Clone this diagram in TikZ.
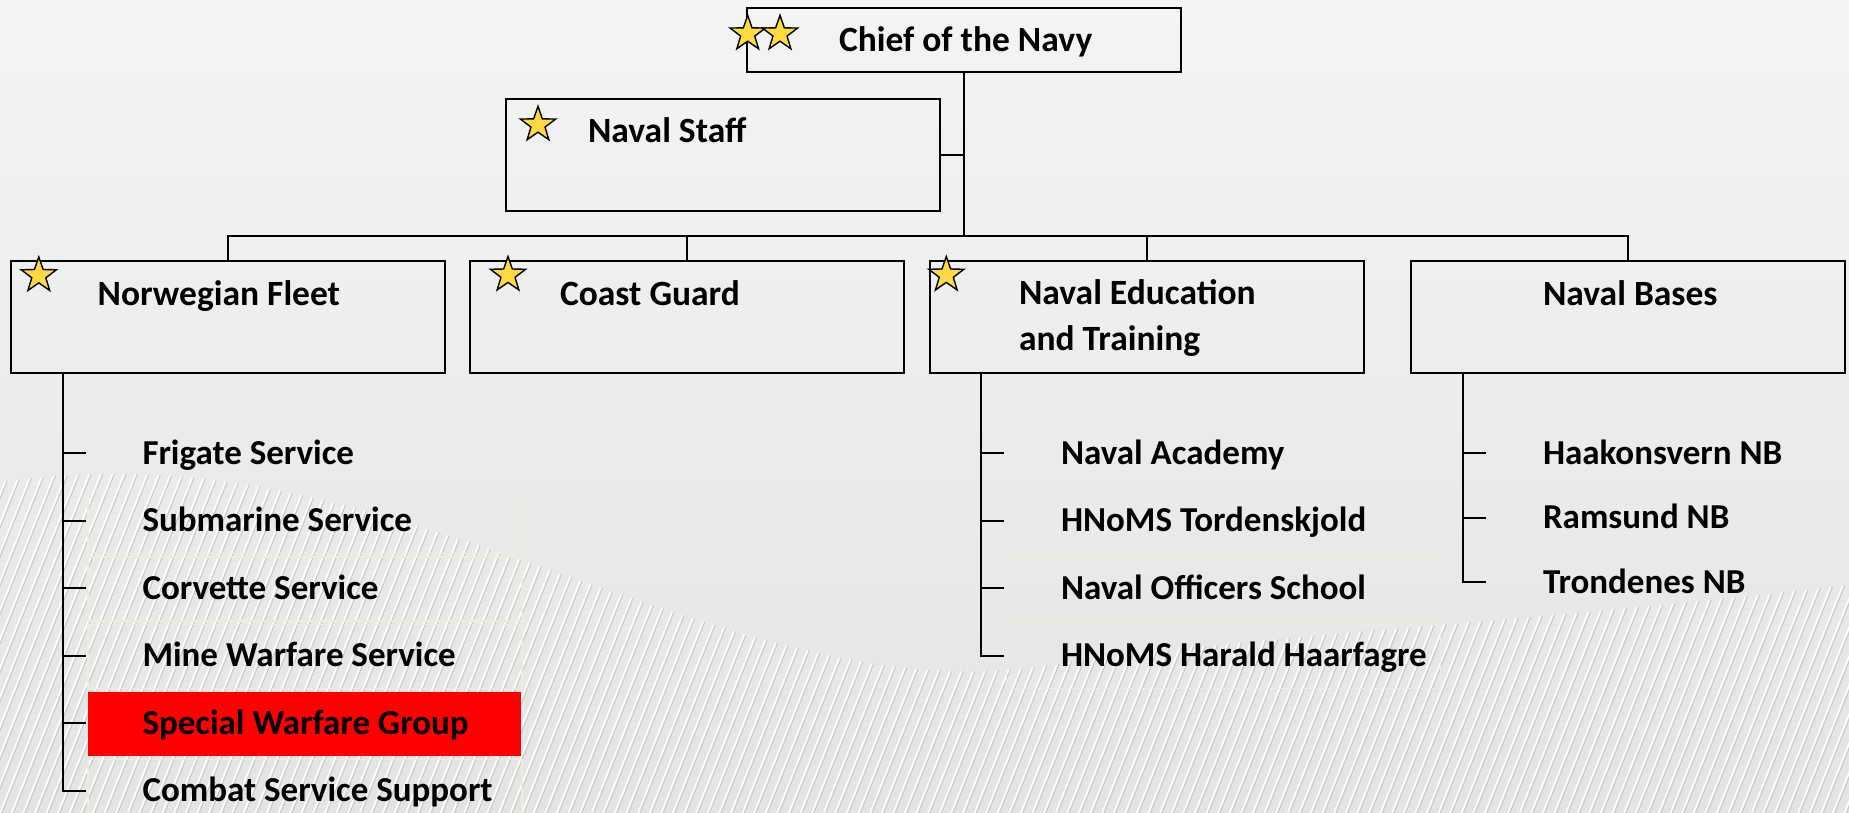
\documentclass[tikz,border=0pt]{standalone}
\usepackage{fontspec}
\setmainfont{Carlito}
\usetikzlibrary{shapes.geometric}

\definecolor{navbg}{RGB}{243,244,244}
\definecolor{navbgdark}{RGB}{227,228,228}
\definecolor{stargold}{RGB}{255,217,64}
\definecolor{rowline}{RGB}{240,235,218}
\definecolor{hatchshade}{RGB}{200,201,201}

\pgfdeclarelayer{background}
\pgfsetlayers{background,main}

\tikzset{
  unit/.style={draw, line width=1pt, minimum width=217pt, minimum height=56pt, inner sep=0pt},
  head/.style={font=\fontsize{17.75pt}{23pt}\selectfont\bfseries, inner sep=0pt, anchor=base west},
  item/.style={font=\fontsize{17.5pt}{21pt}\selectfont\bfseries, inner sep=0pt, text height=11.3pt, text depth=0pt, anchor=west},
  rank/.style={star, star points=5, star point ratio=2.5, draw, line width=0.7pt, fill=stargold, minimum size=18.5pt, inner sep=0pt},
  hatch/.style={white, line width=0.75pt},
  hatchshadow/.style={hatchshade, line width=0.5pt},
  rowbox/.style={draw=rowline, line width=0.6pt},
}

\begin{document}
\begin{tikzpicture}[x=0.5pt, y=-0.5pt, line width=1pt]
  \useasboundingbox (0,0) rectangle (1849,813);

  % boxes
  \node[unit, minimum height=32pt] (chief) at (963.5,40) {};
  \node[unit] (staff) at (723,155) {};
  \node[unit] (fleet) at (227.5,317) {};
  \node[unit] (guard) at (687,317) {};
  \node[unit] (edu) at (1146.5,317) {};
  \node[unit] (bases) at (1628,317) {};

  \node[head] (chieftxt) at (838,52) {Chief of the Navy};
  \node[head] (stafftxt) at (587,142.7) {Naval Staff};
  \node[head] (fleettxt) at (96.7,305) {Norwegian Fleet};
  \node[head] (guardtxt) at (559,305) {Coast Guard};
  \node[head, align=left] (edutxt) at (1018,350) {Naval Education\\and Training};
  \node[head] (basestxt) at (1542,305) {Naval Bases};

  % connectors
  \coordinate (bar) at (963.5,236);
  \draw (chief.south) -- (bar);
  \draw (staff.east) -- (staff.east -| chief.south);
  \draw (fleet.north) |- (bar) -| (bases.north);
  \draw (guard.north) -- (guard.north |- bar);
  \draw (edu.north) -- (edu.north |- bar);

  % units below
  \node[item] (frig) at (141.5,453) {Frigate Service};
  \node[item] (sub) at (141.5,520.5) {Submarine Service};
  \node[item] (corv) at (141.5,588) {Corvette Service};
  \node[item] (mine) at (141.5,655.5) {Mine Warfare Service};
  \node[item] (spec) at (141.5,723) {Special Warfare Group};
  \node[item] (comb) at (141.5,790.5) {Combat Service Support};

  \node[item] (acad) at (1060,453) {Naval Academy};
  \node[item] (tord) at (1060,520.5) {HNoMS Tordenskjold};
  \node[item] (offs) at (1060,588) {Naval Officers School};
  \node[item] (harald) at (1060,655.5) {HNoMS Harald Haarfagre};

  \node[item] (haak) at (1542,453) {Haakonsvern NB};
  \node[item] (rams) at (1542,517.5) {Ramsund NB};
  \node[item] (tron) at (1542,582) {Trondenes NB};

  \coordinate (fleetroot) at ([xshift=26.5pt]fleet.south west);
  \coordinate (eduroot) at ([xshift=26pt]edu.south west);
  \coordinate (basesroot) at ([xshift=26.5pt]bases.south west);
  \foreach \n in {frig,sub,corv,mine,spec,comb}
    \draw (fleetroot) |- ([xshift=-28pt]\n.west);
  \foreach \n in {acad,tord,offs,harald}
    \draw (eduroot) |- ([xshift=-28pt]\n.west);
  \foreach \n in {haak,rams,tron}
    \draw (basesroot) |- ([xshift=-28pt]\n.west);

  % stars
  \node[rank] (star1) at (747.7,33.8) {};
  \node[rank] (star2) at (780,33.8) {};
  \node[rank] (star3) at (538,124.8) {};
  \node[rank] (star4) at (38.8,275.5) {};
  \node[rank] (star5) at (508,275) {};
  \node[rank] (star6) at (946.3,275) {};

  \begin{pgfonlayer}{background}
    \fill[top color=navbg, bottom color=navbgdark] (0,0) rectangle (1849,813);
    \begin{scope}
      \clip (0,482) .. controls (200,455) and (350,500) .. (550,570)
        .. controls (750,640) and (900,690) .. (1050,665)
        .. controls (1200,640) and (1500,625) .. (1849,585)
        -- (1849,813) -- (0,813) -- cycle;
      \foreach \i in {-16,...,160} {
        \draw[hatchshadow] (\i*11.6+2,813) -- ++(168,-420);
        \draw[hatch] (\i*11.6,813) -- ++(168,-420);
      }
    \end{scope}
    \foreach \n in {sub,corv,mine,comb,tord,offs,harald}
      \draw[rowbox] ([xshift=-26.75pt,yshift=15.5pt]\n.west) rectangle ++(217pt,-32pt);
    \fill[red] ([xshift=-26.75pt,yshift=15.5pt]spec.west) rectangle ++(216.5pt,-32pt);
  \end{pgfonlayer}
\end{tikzpicture}
\end{document}
